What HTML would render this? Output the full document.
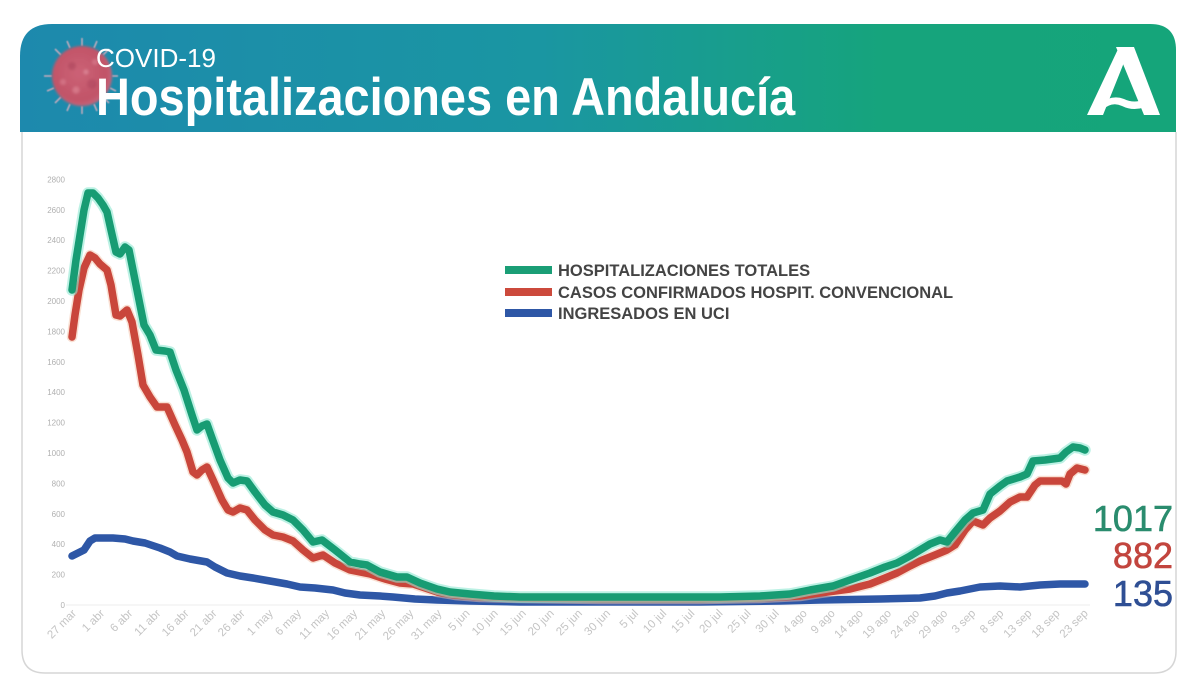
<!DOCTYPE html>
<html>
<head>
<meta charset="utf-8">
<style>
  html,body{margin:0;padding:0;background:#ffffff;}
  body{width:1200px;height:693px;overflow:hidden;position:relative;font-family:"Liberation Sans",sans-serif;}
</style>
</head>
<body>
<svg width="1200" height="693" viewBox="0 0 1200 693" xmlns="http://www.w3.org/2000/svg" style="position:absolute;left:0;top:0">
  <defs>
    <linearGradient id="hdr" x1="0" y1="0" x2="1" y2="0">
      <stop offset="0" stop-color="#1d89ad"/>
      <stop offset="0.45" stop-color="#1a96a2"/>
      <stop offset="0.75" stop-color="#16a47c"/>
      <stop offset="1" stop-color="#15a57a"/>
    </linearGradient>
    <radialGradient id="vir" cx="0.45" cy="0.45" r="0.6">
      <stop offset="0" stop-color="#cc6276"/>
      <stop offset="0.75" stop-color="#c15468"/>
      <stop offset="1" stop-color="#c66a80"/>
    </radialGradient>
    <filter id="blur1" x="-20%" y="-20%" width="140%" height="140%"><feGaussianBlur stdDeviation="1.2"/></filter>
    <filter id="blur2" x="-20%" y="-20%" width="140%" height="140%"><feGaussianBlur stdDeviation="0.6"/></filter>
  </defs>

  <!-- card -->
  <path d="M22 132 L22 650 Q22 673 45 673 L1154 673 Q1176 673 1176 651 L1176 132" fill="#ffffff" stroke="#d6d6d6" stroke-width="1.5"/>
  <!-- header -->
  <path d="M20 132 L20 56 Q20 24 52 24 L1150 24 Q1176 24 1176 50 L1176 132 Z" fill="url(#hdr)"/>

  <!-- virus -->
  <g stroke="#e6b2c0" stroke-width="1.6" opacity="0.8" filter="url(#blur2)">
    <line x1="82" y1="46" x2="82" y2="38"/><line x1="82" y1="106" x2="82" y2="114"/>
    <line x1="52" y1="76" x2="44" y2="76"/><line x1="112" y1="76" x2="118" y2="76"/>
    <line x1="61" y1="55" x2="55" y2="49"/><line x1="103" y1="55" x2="109" y2="49"/>
    <line x1="61" y1="97" x2="55" y2="103"/><line x1="103" y1="97" x2="109" y2="103"/>
    <line x1="70" y1="104" x2="67" y2="111"/><line x1="94" y1="104" x2="97" y2="111"/>
    <line x1="54" y1="88" x2="47" y2="91"/><line x1="110" y1="88" x2="116" y2="91"/>
    <line x1="70" y1="48" x2="67" y2="41"/><line x1="94" y1="48" x2="97" y2="41"/>
  </g>
  <g filter="url(#blur1)">
    <circle cx="82" cy="76" r="30" fill="url(#vir)"/>
    <circle cx="72" cy="66" r="4" fill="#a8435a" opacity="0.5"/>
    <circle cx="92" cy="84" r="5" fill="#a8435a" opacity="0.45"/>
    <circle cx="76" cy="90" r="3.5" fill="#e08a9a" opacity="0.6"/>
    <circle cx="95" cy="62" r="3" fill="#e08a9a" opacity="0.5"/>
    <circle cx="63" cy="82" r="3" fill="#e08a9a" opacity="0.5"/>
    <circle cx="86" cy="72" r="2.5" fill="#e597a6" opacity="0.6"/>
  </g>

  <!-- title -->
  <text x="96" y="67" font-family="'Liberation Sans',sans-serif" font-size="26" fill="#ffffff">COVID-19</text>
  <text x="96" y="115" font-family="'Liberation Sans',sans-serif" font-size="53" font-weight="bold" fill="#ffffff" transform="translate(96 0) scale(0.885 1) translate(-96 0)">Hospitalizaciones en Andalucía</text>

  <!-- logo A -->
  <g fill="#ffffff">
    <polygon points="1087,115 1103,115 1125,60 1119,47"/>
    <polygon points="1116,47 1134,47 1160,115 1144,115"/>
    <path d="M1099 104 Q1112 94 1124 99 Q1134 104 1146 99 L1148 106 Q1134 112 1122 106 Q1112 101 1102 110 Z"/>
  </g>

  <!-- axis baseline -->
  <line x1="66" y1="605" x2="1090" y2="605" stroke="#ececec" stroke-width="1"/>

  <!-- y labels -->
  <g font-family="'Liberation Sans',sans-serif" font-size="8" fill="#b0b0b0" text-anchor="end">
    <text x="65" y="608">0</text>
    <text x="65" y="577.6">200</text>
    <text x="65" y="547.2">400</text>
    <text x="65" y="516.8">600</text>
    <text x="65" y="486.4">800</text>
    <text x="65" y="456">1000</text>
    <text x="65" y="425.6">1200</text>
    <text x="65" y="395.2">1400</text>
    <text x="65" y="364.8">1600</text>
    <text x="65" y="334.4">1800</text>
    <text x="65" y="304">2000</text>
    <text x="65" y="273.6">2200</text>
    <text x="65" y="243.2">2400</text>
    <text x="65" y="212.8">2600</text>
    <text x="65" y="182.4">2800</text>
  </g>

  <!-- x labels -->
  <g font-family="'Liberation Sans',sans-serif" font-size="11.5" fill="#c4c4c4" text-anchor="end">
    <text transform="translate(77,614) rotate(-45)">27 mar</text>
    <text transform="translate(105.1,614) rotate(-45)">1 abr</text>
    <text transform="translate(133.2,614) rotate(-45)">6 abr</text>
    <text transform="translate(161.3,614) rotate(-45)">11 abr</text>
    <text transform="translate(189.4,614) rotate(-45)">16 abr</text>
    <text transform="translate(217.5,614) rotate(-45)">21 abr</text>
    <text transform="translate(245.6,614) rotate(-45)">26 abr</text>
    <text transform="translate(273.7,614) rotate(-45)">1 may</text>
    <text transform="translate(301.8,614) rotate(-45)">6 may</text>
    <text transform="translate(329.9,614) rotate(-45)">11 may</text>
    <text transform="translate(358,614) rotate(-45)">16 may</text>
    <text transform="translate(386.1,614) rotate(-45)">21 may</text>
    <text transform="translate(414.2,614) rotate(-45)">26 may</text>
    <text transform="translate(442.3,614) rotate(-45)">31 may</text>
    <text transform="translate(470.4,614) rotate(-45)">5 jun</text>
    <text transform="translate(498.5,614) rotate(-45)">10 jun</text>
    <text transform="translate(526.6,614) rotate(-45)">15 jun</text>
    <text transform="translate(554.7,614) rotate(-45)">20 jun</text>
    <text transform="translate(582.8,614) rotate(-45)">25 jun</text>
    <text transform="translate(610.9,614) rotate(-45)">30 jun</text>
    <text transform="translate(639,614) rotate(-45)">5 jul</text>
    <text transform="translate(667.1,614) rotate(-45)">10 jul</text>
    <text transform="translate(695.2,614) rotate(-45)">15 jul</text>
    <text transform="translate(723.3,614) rotate(-45)">20 jul</text>
    <text transform="translate(751.4,614) rotate(-45)">25 jul</text>
    <text transform="translate(779.5,614) rotate(-45)">30 jul</text>
    <text transform="translate(807.6,614) rotate(-45)">4 ago</text>
    <text transform="translate(835.7,614) rotate(-45)">9 ago</text>
    <text transform="translate(863.8,614) rotate(-45)">14 ago</text>
    <text transform="translate(891.9,614) rotate(-45)">19 ago</text>
    <text transform="translate(920,614) rotate(-45)">24 ago</text>
    <text transform="translate(948.1,614) rotate(-45)">29 ago</text>
    <text transform="translate(976.2,614) rotate(-45)">3 sep</text>
    <text transform="translate(1004.3,614) rotate(-45)">8 sep</text>
    <text transform="translate(1032.4,614) rotate(-45)">13 sep</text>
    <text transform="translate(1060.5,614) rotate(-45)">18 sep</text>
    <text transform="translate(1088.6,614) rotate(-45)">23 sep</text>
  </g>

  <!-- series: blue (UCI) -->
  <polyline fill="none" stroke="#2e57a6" stroke-width="7.5" stroke-linejoin="round" stroke-linecap="round"
    points="72,556 78,553 84,550 90,541 95,538 105,538 113,538 125,539 133,541 145,543 160,548 170,552 177,556 190,559 207,562 215,567 227,573 240,576 253,578 270,581 287,584 300,587 315,588 333,590 345,593 360,595 380,596 393,597 415,599 437,600 470,601 520,602 600,602 700,602 780,601 820,600 880,599 920,598 935,596 947,593 960,591 980,587 1000,586 1020,587 1040,585 1060,584 1085,584"/>

  <!-- series: red (convencional) -->
  <polyline fill="none" stroke="#f3c2a8" stroke-width="10.5" stroke-linejoin="round" stroke-linecap="round" opacity="0.5"
    points="72,337 75,315 79,290 84,268 90,255 95,258 100,264 107,270 111,285 116,315 120,316 127,310 132,322 138,355 143,385 150,397 157,407 167,407 175,425 182,440 187,452 193,472 197,475 202,470 207,467 213,480 222,500 228,510 233,512 240,508 247,510 255,520 265,530 273,535 283,537 293,541 303,550 313,558 323,555 335,563 350,570 360,572 370,574 385,579 400,583 413,584 425,588 437,592 455,595 480,597 520,598 600,599 700,599 760,598 800,596 820,593 850,589 870,584 885,578 897,573 910,566 920,561 935,555 947,550 955,545 965,530 973,521 983,525 990,518 1000,511 1010,502 1020,497 1027,497 1035,485 1040,481 1055,481 1062,481 1066,484 1070,474 1077,468 1085,470"/>
  <polyline fill="none" stroke="#c9463b" stroke-width="7.5" stroke-linejoin="round" stroke-linecap="round"
    points="72,337 75,315 79,290 84,268 90,255 95,258 100,264 107,270 111,285 116,315 120,316 127,310 132,322 138,355 143,385 150,397 157,407 167,407 175,425 182,440 187,452 193,472 197,475 202,470 207,467 213,480 222,500 228,510 233,512 240,508 247,510 255,520 265,530 273,535 283,537 293,541 303,550 313,558 323,555 335,563 350,570 360,572 370,574 385,579 400,583 413,584 425,588 437,592 455,595 480,597 520,598 600,599 700,599 760,598 800,596 820,593 850,589 870,584 885,578 897,573 910,566 920,561 935,555 947,550 955,545 965,530 973,521 983,525 990,518 1000,511 1010,502 1020,497 1027,497 1035,485 1040,481 1055,481 1062,481 1066,484 1070,474 1077,468 1085,470"/>

  <!-- series: green (totales) -->
  <polyline fill="none" stroke="#8fe8d2" stroke-width="11.5" stroke-linejoin="round" stroke-linecap="round" opacity="0.6"
    points="72,290 76,260 80,235 84,210 88,193 93,193 98,198 103,205 107,212 111,230 116,252 120,254 125,247 129,250 134,275 140,305 144,325 150,335 156,350 165,351 170,352 176,370 184,390 192,415 197,430 202,426 207,424 212,438 220,460 228,478 233,483 240,480 247,481 255,492 265,505 273,512 283,515 293,520 303,530 313,542 322,540 335,550 350,562 360,564 367,565 380,572 397,577 407,577 420,583 437,589 450,592 470,594 494,596 520,597 560,597 600,597 640,597 680,597 720,597 760,596 790,594 810,590 833,586 850,580 870,573 885,567 897,563 910,556 920,550 930,544 940,540 947,542 955,532 965,520 973,513 983,510 990,494 1000,486 1007,481 1020,477 1027,474 1033,461 1045,460 1060,458 1066,452 1073,447 1080,448 1085,450"/>
  <polyline fill="none" stroke="#179c73" stroke-width="7.5" stroke-linejoin="round" stroke-linecap="round"
    points="72,290 76,260 80,235 84,210 88,193 93,193 98,198 103,205 107,212 111,230 116,252 120,254 125,247 129,250 134,275 140,305 144,325 150,335 156,350 165,351 170,352 176,370 184,390 192,415 197,430 202,426 207,424 212,438 220,460 228,478 233,483 240,480 247,481 255,492 265,505 273,512 283,515 293,520 303,530 313,542 322,540 335,550 350,562 360,564 367,565 380,572 397,577 407,577 420,583 437,589 450,592 470,594 494,596 520,597 560,597 600,597 640,597 680,597 720,597 760,596 790,594 810,590 833,586 850,580 870,573 885,567 897,563 910,556 920,550 930,544 940,540 947,542 955,532 965,520 973,513 983,510 990,494 1000,486 1007,481 1020,477 1027,474 1033,461 1045,460 1060,458 1066,452 1073,447 1080,448 1085,450"/>

  <!-- legend -->
  <rect x="505" y="266" width="47" height="8" fill="#1a9e76"/>
  <rect x="505" y="288" width="47" height="8" fill="#cc4a3c"/>
  <rect x="505" y="309" width="47" height="8" fill="#2e57a6"/>
  <g font-family="'Liberation Sans',sans-serif" font-size="16.5" font-weight="bold" fill="#444444">
    <text x="558" y="276">HOSPITALIZACIONES TOTALES</text>
    <text x="558" y="298">CASOS CONFIRMADOS HOSPIT. CONVENCIONAL</text>
    <text x="558" y="319">INGRESADOS EN UCI</text>
  </g>

  <!-- end values -->
  <g font-family="'Liberation Sans',sans-serif" font-size="36" text-anchor="end" stroke-width="0.6">
    <text x="1173" y="531" fill="#2a8c6e" stroke="#2a8c6e">1017</text>
    <text x="1173" y="568" fill="#c2453e" stroke="#c2453e">882</text>
    <text x="1173" y="606" fill="#2f4f94" stroke="#2f4f94">135</text>
  </g>
</svg>
</body>
</html>
